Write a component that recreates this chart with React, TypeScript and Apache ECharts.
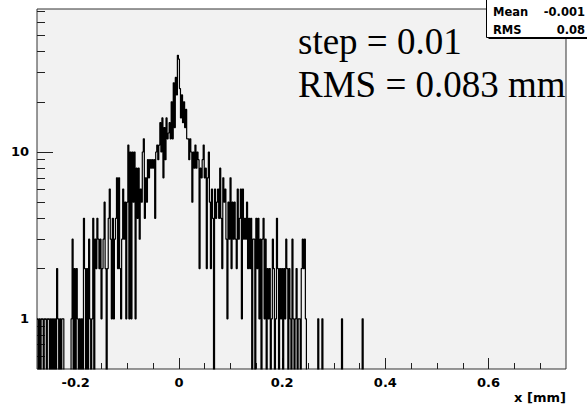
import React, { useEffect, useRef } from 'react';
import * as echarts from 'echarts';

// Histogram binning (x in mm)
const BIN_START = -0.275;
const BIN_WIDTH = 0.002;

// Counts per bin (0 = empty bin)
const counts = [
  1, 0, 1, 0, 1, 1, 0, 1, 1, 0,
  1, 1, 0, 1, 0, 1, 0, 1, 0, 2,
  1, 0, 1, 0, 1, 1, 0, 0, 0, 0,
  0, 0, 0, 1, 3, 0, 2, 0, 2, 1,
  0, 1, 0, 1, 0, 4, 2, 0, 2, 0,
  3, 1, 0, 1, 4, 0, 3, 2, 4, 3,
  2, 3, 1, 2, 3, 5, 2, 0, 2, 4,
  6, 3, 1, 4, 1, 3, 4, 7, 2, 7,
  2, 1, 3, 6, 3, 5, 1, 5, 11, 1,
  10, 1, 10, 5, 10, 1, 8, 4, 8, 3,
  6, 5, 10, 12, 4, 7, 5, 9, 7, 9,
  8, 9, 8, 9, 4, 10, 11, 9, 11, 15,
  10, 16, 7, 14, 9, 16, 12, 13, 15, 12,
  20, 12, 26, 14, 28, 22, 38, 36, 24, 16,
  22, 15, 20, 14, 18, 12, 12, 9, 12, 10,
  5, 10, 8, 11, 8, 10, 9, 2, 8, 7,
  9, 11, 7, 8, 2, 7, 10, 5, 2, 6,
  4, 0, 6, 4, 5, 6, 4, 8, 4, 2,
  7, 5, 6, 3, 1, 5, 3, 7, 2, 5,
  3, 5, 3, 2, 6, 3, 4, 6, 1, 6,
  3, 4, 3, 5, 2, 4, 2, 4, 0, 3,
  3, 0, 4, 2, 4, 1, 3, 0, 3, 4,
  1, 3, 0, 2, 1, 2, 0, 1, 3, 2,
  0, 1, 4, 2, 0, 2, 1, 2, 0, 2,
  1, 3, 2, 0, 2, 1, 0, 3, 1, 0,
  1, 2, 0, 1, 1, 0, 2, 3, 2, 3,
  1, 0, 0, 0, 0, 0, 0, 0, 0, 0,
  0, 0, 1, 0, 0, 0, 1, 0, 0, 0,
  0, 0, 0, 0, 0, 0, 0, 0, 0, 0,
  0, 0, 0, 0, 0, 1, 0, 0, 0, 0,
  0, 0, 0, 0, 0, 0, 0, 0, 0, 0,
  0, 0, 0, 0, 0, 1, 0,
];

const X_MIN = -0.275;
const X_MAX = 0.75;
const Y_MIN = 0.5;
const Y_MAX = 72;

const xMajorTicks = [-0.2, 0, 0.2, 0.4, 0.6];
const xMinorTicks = [-0.25, -0.15, -0.1, -0.05, 0.05, 0.1, 0.15, 0.25, 0.3, 0.35, 0.45, 0.5, 0.55, 0.65, 0.7];
const yMajorTicks = [1, 10];
const yMinorTicks = [0.6, 0.7, 0.8, 0.9, 2, 3, 4, 5, 6, 7, 8, 9, 20, 30, 40, 50, 60, 70];

const xTitle = 'x [mm]';
const noteLines = ['step = 0.01', 'RMS = 0.083 mm'];
const statsNames = ['Mean', 'RMS'];
const statsValues = ['-0.001', '0.08'];

const SANS = '"DejaVu Sans", "Liberation Sans", Arial, sans-serif';
const SERIF = '"Liberation Serif", "Times New Roman", serif';

export default function App() {
  const ref = useRef<HTMLDivElement>(null);

  useEffect(() => {
    if (!ref.current) return;
    const chart = echarts.init(ref.current, undefined, { renderer: 'svg' });

    // Empty bins are placed below the axis minimum so the outline drops out of the frame (clipped)
    const stepData: number[][] = counts.map((c, i) => [BIN_START + i * BIN_WIDTH, c > 0 ? c : 0.3]);
    stepData.push([BIN_START + counts.length * BIN_WIDTH, 0.3]);

    const tickColor = '#222';
    const labelStyle = { fontWeight: 'bold', fontSize: 13, color: '#000', fontFamily: SANS };

    const option: any = {
      animation: false,
      backgroundColor: '#ffffff',
      textStyle: { fontFamily: SANS },
      grid: {
        left: 37,
        top: 9,
        right: 21,
        bottom: 42,
        show: true,
        backgroundColor: '#f2f2f2',
        borderColor: '#333',
        borderWidth: 1,
      },
      xAxis: [
        {
          type: 'value',
          min: X_MIN,
          max: X_MAX,
          position: 'bottom',
          axisLine: { show: false, onZero: false },
          splitLine: { show: false },
          axisTick: { show: true, inside: true, length: 11, customValues: xMajorTicks, lineStyle: { color: tickColor } },
          axisLabel: {
            customValues: xMajorTicks,
            margin: 7,
            ...labelStyle,
            formatter: (v: number) => String(v),
          },
        },
        {
          type: 'value',
          min: X_MIN,
          max: X_MAX,
          position: 'bottom',
          axisLine: { show: false, onZero: false },
          splitLine: { show: false },
          axisTick: { show: true, inside: true, length: 6, customValues: xMinorTicks, lineStyle: { color: tickColor } },
          axisLabel: { show: false },
        },
      ],
      yAxis: [
        {
          type: 'log',
          logBase: 10,
          min: Y_MIN,
          max: Y_MAX,
          position: 'left',
          axisLine: { show: false, onZero: false },
          splitLine: { show: false },
          axisTick: { show: true, inside: true, length: 16, customValues: yMajorTicks, lineStyle: { color: tickColor } },
          axisLabel: {
            customValues: yMajorTicks,
            margin: 8,
            ...labelStyle,
            formatter: (v: number) => String(v),
          },
        },
        {
          type: 'log',
          logBase: 10,
          min: Y_MIN,
          max: Y_MAX,
          position: 'left',
          axisLine: { show: false, onZero: false },
          splitLine: { show: false },
          axisTick: { show: true, inside: true, length: 8, customValues: yMinorTicks, lineStyle: { color: tickColor } },
          axisLabel: { show: false },
        },
      ],
      series: [
        {
          type: 'line',
          xAxisIndex: 0,
          yAxisIndex: 0,
          step: 'end',
          data: stepData,
          symbol: 'none',
          clip: true,
          lineStyle: { color: '#000', width: 1.2 },
          z: 3,
        },
      ],
      graphic: [
        {
          type: 'text',
          x: 298,
          y: 41.5,
          z: 10,
          style: { text: noteLines[0], font: `37px ${SERIF}`, fill: '#000', verticalAlign: 'middle', align: 'left' },
        },
        {
          type: 'text',
          x: 298,
          y: 84.5,
          z: 10,
          style: { text: noteLines[1], font: `37px ${SERIF}`, fill: '#000', verticalAlign: 'middle', align: 'left' },
        },
        {
          type: 'text',
          x: 566,
          y: 397,
          z: 10,
          style: { text: xTitle, font: `bold 13px ${SANS}`, fill: '#000', verticalAlign: 'middle', align: 'right' },
        },
        // stats box shadow and box
        {
          type: 'rect',
          z: 10,
          shape: { x: 488.5, y: -2, width: 120, height: 41 },
          style: { fill: '#000' },
        },
        {
          type: 'rect',
          z: 11,
          shape: { x: 486.5, y: -2, width: 120, height: 39.5 },
          style: { fill: '#ffffff', stroke: '#000', lineWidth: 1 },
        },
        {
          type: 'text',
          x: 493,
          y: 12,
          z: 12,
          style: { text: statsNames[0], font: `bold 11.5px ${SANS}`, fill: '#000', verticalAlign: 'middle', align: 'left' },
        },
        {
          type: 'text',
          x: 493,
          y: 29.5,
          z: 12,
          style: { text: statsNames[1], font: `bold 11.5px ${SANS}`, fill: '#000', verticalAlign: 'middle', align: 'left' },
        },
        {
          type: 'text',
          x: 585,
          y: 12,
          z: 12,
          style: { text: statsValues[0], font: `bold 11.5px ${SANS}`, fill: '#000', verticalAlign: 'middle', align: 'right' },
        },
        {
          type: 'text',
          x: 585,
          y: 29.5,
          z: 12,
          style: { text: statsValues[1], font: `bold 11.5px ${SANS}`, fill: '#000', verticalAlign: 'middle', align: 'right' },
        },
      ],
    };

    chart.setOption(option);
    return () => {
      chart.dispose();
    };
  }, []);

  return (
    <div
      ref={ref}
      style={{ position: 'absolute', left: 0, top: 0, width: 587, height: 411, background: '#ffffff' }}
    />
  );
}
